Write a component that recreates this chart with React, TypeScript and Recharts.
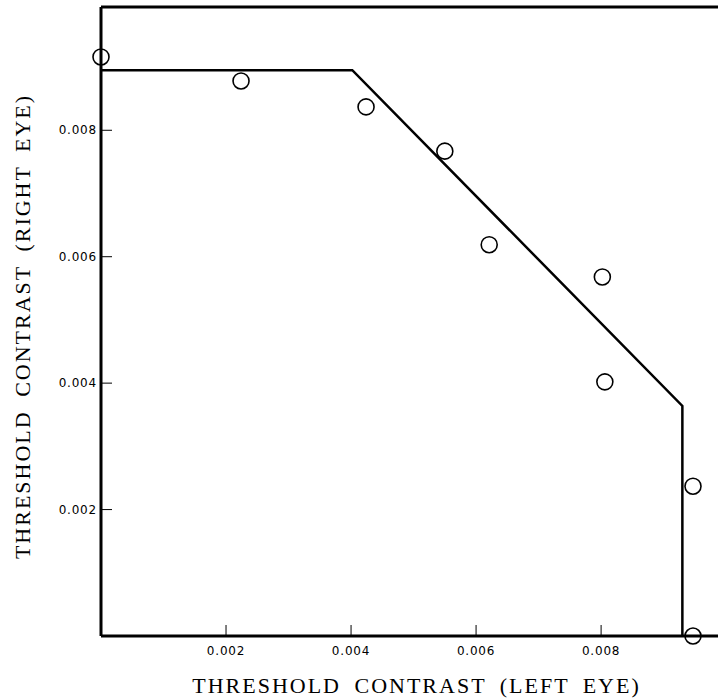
import { ScatterChart, Scatter, XAxis, YAxis, ReferenceLine } from "recharts";

// measured thresholds (left eye, right eye)
const leftEye = [0, 0.00224, 0.00424, 0.0055, 0.00621, 0.00802, 0.00806, 0.00947, 0.00947];
const rightEye = [0.00916, 0.00878, 0.00837, 0.00767, 0.00619, 0.00568, 0.00402, 0.00237, 0];

// boundary polyline vertices
const boundaryX = [0, 0.00402, 0.0093, 0.0093];
const boundaryY = [0.00895, 0.00895, 0.00364, 0];

const xTicks = [0.002, 0.004, 0.006, 0.008];
const yTicks = [0.002, 0.004, 0.006, 0.008];
const xMax = 0.00987;
const yMax = 0.00995;

const points = leftEye.map((x, i) => ({ x, y: rightEye[i] }));
const boundary = boundaryX.map((x, i) => ({ x, y: boundaryY[i] }));

const tickFont = { fontFamily: "DejaVu Sans", fontSize: 12, letterSpacing: 0.8 };
const titleFont = {
  fontFamily: "Liberation Serif",
  fontSize: 22,
  letterSpacing: 2,
  wordSpacing: 6,
  fill: "#000",
};

const XTick = ({ x, y, payload }: any) => (
  <g>
    <line x1={x} y1={y} x2={x} y2={y - 11} stroke="#000" strokeWidth={1} />
    <text x={x} y={y + 19} textAnchor="middle" fill="#000" style={tickFont}>
      {payload.value.toFixed(3)}
    </text>
  </g>
);

const YTick = ({ x, y, payload }: any) => (
  <g>
    <line x1={x} y1={y} x2={x + 11} y2={y} stroke="#000" strokeWidth={1} />
    <text x={x - 4} y={y + 4} textAnchor="end" fill="#000" style={tickFont}>
      {payload.value.toFixed(3)}
    </text>
  </g>
);

const Ring = ({ cx, cy }: any) => (
  <circle cx={cx} cy={cy} r={8} fill="none" stroke="#000" strokeWidth={1.6} />
);

export default function App() {
  return (
    <div style={{ position: "absolute", left: 0, top: 0, background: "#fff" }}>
      <ScatterChart width={718} height={698} margin={{ top: 7, right: 0, left: 0, bottom: 0 }}>
        <XAxis
          type="number"
          dataKey="x"
          domain={[0, xMax]}
          ticks={xTicks}
          tick={<XTick />}
          tickSize={0}
          tickMargin={0}
          tickLine={false}
          axisLine={{ stroke: "#000", strokeWidth: 3 }}
          height={62}
          label={{
            value: "THRESHOLD CONTRAST (LEFT EYE)",
            position: "insideBottom",
            offset: 5,
            dx: 7,
            style: titleFont,
          }}
        />
        <YAxis
          type="number"
          dataKey="y"
          domain={[0, yMax]}
          ticks={yTicks}
          tick={<YTick />}
          tickSize={0}
          tickMargin={0}
          tickLine={false}
          axisLine={{ stroke: "#000", strokeWidth: 3 }}
          width={101}
          label={{
            value: "THRESHOLD CONTRAST (RIGHT EYE)",
            position: "insideLeft",
            angle: -90,
            offset: 22,
            dy: 5,
            style: { ...titleFont, textAnchor: "middle" },
          }}
        />
        <ReferenceLine y={yMax} stroke="#000" strokeWidth={3} />
        <Scatter
          data={boundary}
          line={{ stroke: "#000", strokeWidth: 2.5 }}
          lineType="joint"
          shape={() => null}
          isAnimationActive={false}
        />
        <Scatter data={points} shape={<Ring />} isAnimationActive={false} />
      </ScatterChart>
    </div>
  );
}
